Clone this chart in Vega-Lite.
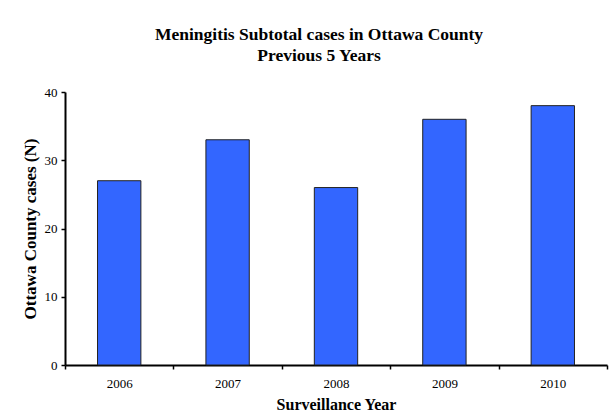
{
  "$schema": "https://vega.github.io/schema/vega-lite/v6.json",
  "autosize": {"type": "none"},
  "width": 542,
  "height": 273,
  "padding": {"left": 65, "top": 92, "right": 3, "bottom": 48},
  "background": "white",
  "title": {
    "text": ["Meningitis Subtotal cases in Ottawa County", "Previous 5 Years"],
    "font": "Liberation Serif",
    "fontSize": 17.5,
    "fontWeight": "bold",
    "color": "black",
    "lineHeight": 21,
    "anchor": "middle",
    "dx": -17,
    "offset": 22
  },
  "data": {
    "values": [
      {"year": "2006", "cases": 27},
      {"year": "2007", "cases": 33},
      {"year": "2008", "cases": 26},
      {"year": "2009", "cases": 36},
      {"year": "2010", "cases": 38}
    ]
  },
  "mark": {"type": "bar", "width": {"band": 0.4}, "color": "#3366FF", "stroke": "#222222", "strokeWidth": 1},
  "encoding": {
    "x": {
      "field": "year",
      "type": "ordinal",
      "scale": {"paddingInner": 0, "paddingOuter": 0},
      "axis": {
        "title": "Surveillance Year",
        "labelAngle": 0,
        "tickBand": "extent",
        "grid": false,
        "domainColor": "black",
        "domainWidth": 2,
        "tickColor": "black",
        "tickWidth": 1.5,
        "tickSize": 4,
        "labelFont": "Liberation Serif",
        "labelFontSize": 13,
        "labelColor": "black",
        "labelPadding": 8,
        "titleFont": "Liberation Serif",
        "titleFontSize": 16,
        "titleFontWeight": "bold",
        "titleColor": "black",
        "titlePadding": 6
      }
    },
    "y": {
      "field": "cases",
      "type": "quantitative",
      "scale": {"domain": [0, 40]},
      "axis": {
        "title": "Ottawa County cases (N)",
        "values": [0, 10, 20, 30, 40],
        "grid": false,
        "domainColor": "black",
        "domainWidth": 2,
        "tickColor": "black",
        "tickWidth": 1.5,
        "tickSize": 4,
        "labelFont": "Liberation Serif",
        "labelFontSize": 13,
        "labelColor": "black",
        "labelPadding": 4,
        "titleFont": "Liberation Serif",
        "titleFontSize": 17,
        "titleFontWeight": "bold",
        "titleColor": "black",
        "titlePadding": 5
      }
    }
  },
  "config": {"view": {"stroke": null}}
}
